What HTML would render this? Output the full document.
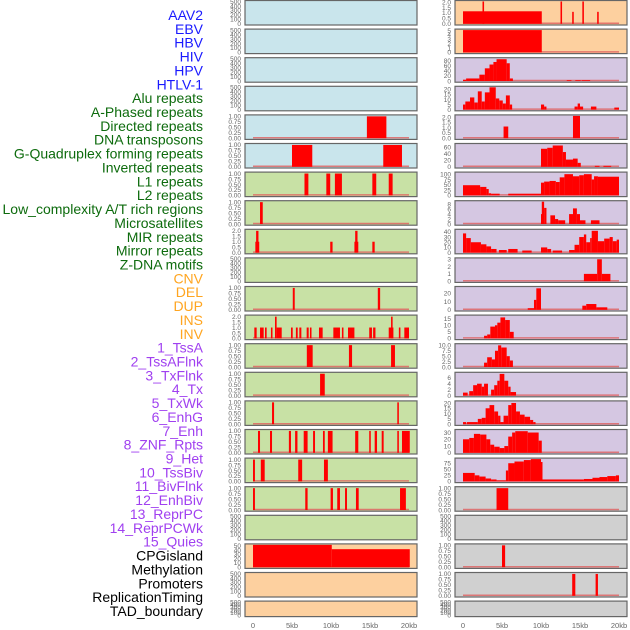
<!DOCTYPE html>
<html><head><meta charset="utf-8"><style>
html,body{margin:0;padding:0;background:#fff;}
svg{display:block;font-family:"Liberation Sans",sans-serif;}
</style></head><body>
<svg id="chart" width="630" height="630" viewBox="0 0 630 630"></svg>
<script>
const NS="http://www.w3.org/2000/svg";
const labels=["AAV2","EBV","HBV","HIV","HPV","HTLV-1","Alu repeats","A-Phased repeats","Directed repeats","DNA transposons","G-Quadruplex forming repeats","Inverted repeats","L1 repeats","L2 repeats","Low_complexity A/T rich regions","Microsatellites","MIR repeats","Mirror repeats","Z-DNA motifs","CNV","DEL","DUP","INS","INV","1_TssA","2_TssAFlnk","3_TxFlnk","4_Tx","5_TxWk","6_EnhG","7_Enh","8_ZNF_Rpts","9_Het","10_TssBiv","11_BivFlnk","12_EnhBiv","13_ReprPC","14_ReprPCWk","15_Quies","CPGisland","Methylation","Promoters","ReplicationTiming","TAD_boundary"];
const labelGroups=["v","v","v","v","v","v","r","r","r","r","r","r","r","r","r","r","r","r","r","s","s","s","s","s","c","c","c","c","c","c","c","c","c","c","c","c","c","c","c","k","k","k","k","k"];
const xTicks=[0,5,10,15,20];
const xTickLabels=["0","5kb","10kb","15kb","20kb"];
// left column panels
const leftBg=["b","b","b","b","b","b","g","g","g","g","g","g","g","g","g","g","g","g","g","p","p","p"];
const leftMax=[500,500,500,500,1.02,1.02,1.02,1.02,2.05,500,1.02,2.05,1.02,1.02,1.02,1.02,1.02,1.02,500,52,500,500];
const leftTicks=[[0,100,200,300,400,500],[0,100,200,300,400,500],[0,100,200,300,400,500],[0,100,200,300,400,500],[0,0.25,0.5,0.75,1],[0,0.25,0.5,0.75,1],[0,0.25,0.5,0.75,1],[0,0.25,0.5,0.75,1],[0,0.5,1,1.5,2],[0,100,200,300,400,500],[0,0.25,0.5,0.75,1],[0,0.5,1,1.5,2],[0,0.25,0.5,0.75,1],[0,0.25,0.5,0.75,1],[0,0.25,0.5,0.75,1],[0,0.25,0.5,0.75,1],[0,0.25,0.5,0.75,1],[0,0.25,0.5,0.75,1],[0,100,200,300,400,500],[0,10,20,30,40,50],[0,100,200,300,400,500],[0,100,200,300,400,500]];
const leftSegs=[[],[],[],[],
[[14.6,17.1,1]],
[[5.0,7.6,1],[16.7,19.1,1]],
[[6.6,7.1,1],[9.4,9.9,1],[10.5,11.4,1],[15.3,15.8,1],[17.4,17.9,1]],
[[0.9,1.25,1]],
[[0.3,0.8,1],[0.4,0.7,2],[9.9,10.2,1],[13.0,13.5,1],[13.1,13.4,2],[15.3,15.6,1]],
[],
[[5.1,5.35,1],[16.0,16.3,1]],
[[0.17,0.47,1],[0.9,1.37,1],[1.54,1.75,1],[2.3,2.5,1],[2.82,3.03,2],[3.03,3.68,1],[4.87,5.09,1],[5.5,5.73,1],[5.94,6.2,1],[6.88,7.14,1],[7.3,7.5,1],[8.46,8.93,1],[10.3,11.15,1],[11.4,11.6,1],[12.18,13,1],[14.9,15.25,1],[15.4,15.7,1],[17.4,18,1],[17.7,17.9,2],[18.7,18.9,1],[19.4,20,1]],
[[6.9,7.65,1],[12.3,12.7,1],[17.7,18.2,1]],
[[8.6,9.2,1]],
[[2.44,2.7,1],[18.5,18.7,1]],
[[0.64,0.9,1],[2.18,2.44,1],[4.6,4.87,1],[5.4,5.7,1],[6.5,7.0,1],[7.7,7.95,1],[8.97,9.2,1],[9.6,10.2,1],[13.1,13.5,1],[14.9,15.1,1],[15.6,15.9,1],[16.5,16.75,1],[18.5,18.7,1],[19.1,20.1,1]],
[[0,0.25,1],[1.0,1.5,1],[5.8,6.3,1],[9.1,9.6,1]],
[[0,0.25,1],[6.7,7.0,1],[9.95,10.25,1],[10.8,11.15,1],[11.8,12.05,1],[13.2,13.55,1],[18.85,19.6,1]],
[],
[[0,10.1,52],[10.1,20.1,42]],
[],[]];
// right column panels
const rightBg=["p","p","l","l","l","l","l","l","l","l","l","l","l","l","l","l","l","x","x","x","x","x"];
const rightMax=[2.05,5.1,88,22,2.1,68,105,9,43,3.05,27,17,10.3,7.5,21,33,92,1.02,500,1.02,1.02,500];
const rightTicks=[[0,0.5,1,1.5,2],[0,1,2,3,4,5],[0,20,40,60,80],[0,5,10,15,20],[0,0.5,1,1.5,2],[0,20,40,60],[0,25,50,75,100],[0,2,4,6,8],[0,10,20,30,40],[0,1,2,3],[0,10,20],[0,5,10,15],[0,2.5,5,7.5,10],[0,2,4,6],[0,5,10,15,20],[0,10,20,30],[0,25,50,75],[0,0.25,0.5,0.75,1],[0,100,200,300,400,500],[0,0.25,0.5,0.75,1],[0,0.25,0.5,0.75,1],[0,100,200,300,400,500]];
const rightSegs=[
[[0,10.1,1.15],[2.5,2.7,2.05],[12.5,12.7,2.05],[14.0,14.2,1.1],[15.3,15.5,2.05],[17.2,17.4,1.1]],
[[0,10.1,5.1]],
[[0,0.4,5],[0.4,2.1,10],[2.1,2.8,25],[2.8,3.4,50],[3.4,3.9,65],[3.9,4.3,75],[4.3,5.6,86],[5.6,6.0,70],[6.0,6.4,10],[13.3,13.9,3],[14.4,15.1,3],[15.2,16.3,3]],
[[0,0.3,5],[0.3,0.9,8],[0.9,1.45,12],[1.45,1.9,7],[1.9,2.4,18],[2.4,2.8,8],[2.8,3.4,17],[3.4,4.2,22],[4.2,4.65,11],[4.65,5.1,9],[5.1,5.5,6],[5.5,6.0,14],[6.0,6.3,5],[10,10.4,5],[10.4,10.7,3],[14.3,14.7,3],[14.7,15.0,6],[15.0,15.4,3],[16.4,17.1,3],[19.4,20,2]],
[[5.2,5.8,1.1],[14.1,15,2.1]],
[[10,10.8,55],[10.8,11.5,58],[11.5,12.8,65],[12.8,13.2,45],[13.2,14.1,22],[14.1,14.7,25],[14.7,15.1,12],[16.9,17.5,3],[18,19,3]],
[[0,2.2,48],[2.2,3,40],[3,3.3,30],[3.3,3.6,10],[3.6,4.7,8],[5.8,10,8],[10,10.4,60],[10.4,11.1,65],[11.1,11.9,68],[11.9,12.4,63],[12.4,13,85],[13,14.1,100],[14.1,14.9,90],[14.9,15.5,95],[15.5,16.5,100],[16.5,16.8,75],[16.8,17.3,90],[17.3,20,88]],
[[10,10.3,4],[10.1,10.4,9],[10.4,10.7,6.5],[11.2,11.8,3.5],[11.8,12.2,2],[12.2,13.1,1.5],[13.6,14.1,4],[14.1,14.6,6.3],[14.6,15,4],[15,15.7,1.5],[16.4,17.5,1.5]],
[[0,0.4,37],[0.4,1,28],[1,2.3,20],[2.3,3,16],[3,3.6,12],[3.6,4.3,7],[4.6,5.6,5],[5.8,7,7],[7.6,8.8,4],[10,10.8,10],[10.8,11.3,7],[11.5,12.7,4],[13.6,14.3,5],[14.3,14.9,15],[14.9,15.5,30],[15.5,15.8,35],[15.8,16.3,20],[16.3,16.5,28],[16.5,17.3,42],[17.3,18.1,22],[18.1,18.8,27],[18.8,19.2,30],[19.2,19.7,22],[19.7,20,25]],
[[15.5,17.2,1],[17.2,17.8,3],[17.8,18.9,1]],
[[8.3,9.1,2],[9.1,9.4,12],[9.4,10,26],[15.3,15.8,5],[15.8,17.1,7],[17.1,18.5,3]],
[[2.7,3.1,2],[3.1,3.5,3],[3.5,4.1,9],[4.1,4.4,10],[4.4,4.8,12],[4.8,5.4,16],[5.4,6,14],[6,6.5,5]],
[[2.7,3.1,2],[3.1,3.7,4.5],[3.7,4.1,3.5],[4.1,4.5,7.5],[4.5,4.9,10],[4.9,5.6,9],[5.6,6,5],[6,6.4,3]],
[[0,0.6,1],[0.8,1.3,1.5],[1.3,1.8,3.5],[1.8,2.4,4],[2.4,2.7,3],[2.7,3.2,4],[3.6,4,2],[4,4.4,3.5],[4.4,4.7,5],[4.7,5.3,7.3],[5.3,5.8,5],[5.8,6.1,3],[6.1,6.8,1.2]],
[[0,0.4,2],[0.5,1.9,2],[1.9,2.4,5],[2.4,2.9,6],[2.9,3.4,15],[3.4,4,18],[4,4.5,12],[4.5,4.8,8],[4.8,5.2,2],[5.2,5.8,8],[5.8,6.2,18],[6.2,6.8,20],[6.8,7.3,12],[7.3,7.9,9],[7.9,8.6,7],[8.6,9,4],[9,9.3,2]],
[[0,0.8,20],[0.8,1.4,22],[1.4,2.2,28],[2.2,3,27],[3,3.5,20],[3.5,4,12],[4,4.7,9],[4.7,5.3,7],[5.3,5.8,10],[5.8,6.3,24],[6.3,6.7,30],[6.7,8.3,32],[8.3,9.7,30],[9.7,10.1,18]],
[[0,1.5,35],[1.5,2.1,25],[2.1,2.9,20],[2.9,3.6,12],[3.6,4.3,8],[4.3,5.5,4],[5.5,5.8,45],[5.8,6.6,75],[6.6,7.8,82],[7.8,8.7,88],[8.7,10,92],[10,10.1,80],[10.1,15.5,8],[15.5,16.6,10],[16.6,17.5,15],[17.5,18.5,18],[18.5,19.6,22],[19.6,20,25]],
[[4.3,5.8,1]],
[],
[[5.0,5.4,1]],
[[14.0,14.4,1],[17.0,17.3,1]],
[]];

const svg=document.getElementById("chart");
function el(tag,attrs,parent){const e=document.createElementNS(NS,tag);for(const k in attrs)e.setAttribute(k,attrs[k]);(parent||svg).appendChild(e);return e;}
const bgColors={b:"#c9e5ec",g:"#c8e1a5",p:"#fdd09f",l:"#d5c7e2",x:"#d0d0d0"};
const labelColors={v:"#1a1aff",r:"#0d6b0d",s:"#ffa520",c:"#a040f0",k:"#000"};
const panelTop=i=>i*28.6;
const panelH=i=>i===21?16:25;

// labels
labels.forEach((t,i)=>{
  const tx=el("text",{x:203,y:15+i*13.86+5,"text-anchor":"end","font-size":"14",fill:labelColors[labelGroups[i]]});
  tx.textContent=t;
  
  
});

function drawColumn(x0,x1,bgs,maxes,ticks,segs,side){
  const kbX=kb=>x0+8+kb*7.8;
  for(let i=0;i<bgs.length;i++){
    const top=panelTop(i),h=panelH(i);
    const g=el("g",{});
    
    
    const base=top+h-1.2, ytop=top+1.5;
    const yS=v=>base-(v/maxes[i])*(base-ytop);
    const r=el("rect",{x:x0,y:top+0.5,width:x1-x0,height:h-0.5,fill:bgColors[bgs[i]],stroke:"#666","stroke-width":1.2},g);
    
    
    ticks[i].forEach(tv=>{
      const t=el("text",{x:x0-4,y:yS(tv)+2.3,"text-anchor":"end","font-size":"6.5",fill:"#666"},g);
      t.textContent=(maxes[i]<=2.2&&tv%1!==0)||(maxes[i]<=1.1)?tv.toFixed(2):(maxes[i]<=2.2?tv.toFixed(1):(maxes[i]===10.3?tv.toFixed(1):String(tv)));
      if(maxes[i]>1.1&&maxes[i]<=2.2) t.textContent=tv.toFixed(1);
      
      
    });
    if(segs[i].length){
      const bl=el("line",{x1:kbX(0),x2:kbX(20),y1:base-0.5,y2:base-0.5,stroke:"#e06060","stroke-width":1.5,opacity:0.8},g);
      
      
    }
    segs[i].forEach(s=>{
      const b=el("rect",{x:kbX(s[0]),y:yS(s[2]),width:Math.max(1.5,kbX(s[1])-kbX(s[0])),height:base-yS(s[2]),fill:"#ff0000"},g);
      
      
    });
  }
  xTicks.forEach((kb,j)=>{
    const t=el("text",{x:kbX(kb),y:628,"text-anchor":"middle","font-size":"7.5",fill:"#666"});
    t.textContent=xTickLabels[j];
    
    
  });
}
drawColumn(245,417,leftBg,leftMax,leftTicks,leftSegs,"left");
drawColumn(455,627,rightBg,rightMax,rightTicks,rightSegs,"right");
</script>
</body></html>
